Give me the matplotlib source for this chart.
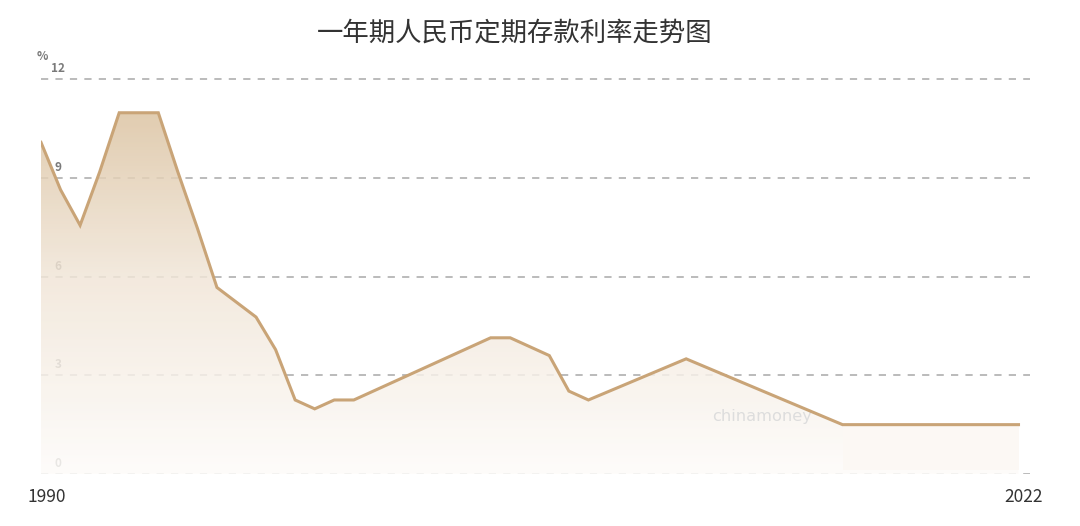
import numpy as np
import matplotlib
matplotlib.use("Agg")
import matplotlib.pyplot as plt
from matplotlib.colors import LinearSegmentedColormap
from matplotlib.patches import PathPatch

plt.rcParams['font.family'] = ['Noto Sans CJK SC', 'DejaVu Sans']

# one-year RMB deposit rate (%), one point per rate step
rates = [10.08, 8.64, 7.56, 9.18, 10.98, 10.98, 10.98, 9.18, 7.47, 5.67,
         5.22, 4.77, 3.78, 2.25, 1.98, 2.25, 2.25, 2.52, 2.79, 3.06,
         3.33, 3.60, 3.87, 4.14, 4.14, 3.87, 3.60, 2.52, 2.25, 2.50,
         2.75, 3.00, 3.25, 3.50, 3.25, 3.00, 2.75, 2.50, 2.25, 2.00,
         1.75, 1.50, 1.50, 1.50, 1.50, 1.50, 1.50, 1.50, 1.50, 1.50,
         1.50]
yticks = [0, 3, 6, 9, 12]
end_labels = ["1990", "2022"]

title = "一年期人民币定期存款利率走势图"
line_color = "#c9a477"

fig = plt.figure(figsize=(10.8, 5.26), dpi=100)
W, H = 1080, 526
ax = fig.add_axes([41 / W, 52 / H, 989 / W, 405 / H])

x = np.arange(len(rates))
n = len(rates) - 1
ax.set_xlim(0, 989 / 19.55)
ax.set_ylim(0, 12.31)

# dashed grid, labels sit under the fill
for t in yticks:
    ax.axhline(t, color="#b5b5b5", lw=1.3, ls=(0, (4, 4)), zorder=1)
    ax.text(0.88, t + 0.12, str(t), fontsize=8.5, color="#7a7a7a",
            ha="center", va="bottom", zorder=1, fontweight="bold")

# gradient fill under the line
poly = ax.fill_between(x, rates, 0, color="none", lw=0)
cmap = LinearSegmentedColormap.from_list("g", ["#fefcfa", "#f1e6d8", "#d8bd98"])
grad = np.linspace(1, 0, 256).reshape(-1, 1)
im = ax.imshow(grad, cmap=cmap, aspect="auto", extent=[0, n, 0, 12],
               origin="upper", zorder=2, alpha=0.85)
clip = PathPatch(poly.get_paths()[0], transform=ax.transData, facecolor="none", edgecolor="none")
ax.add_patch(clip)
im.set_clip_path(clip)

# flat tail has a plain light patch in the original
tail = x >= 40.5
ax.fill_between(x[tail], np.array(rates)[tail], 0.12, color="#fcf8f4", lw=0, zorder=3)

ax.plot(x, rates, color=line_color, lw=2.2, zorder=4, solid_joinstyle="miter")

ax.text(36.9, 1.75, "chinamoney", fontsize=11.7, color="#dddddd", ha="center",
        va="center", zorder=3, family=["DejaVu Sans"])

for s in ax.spines.values():
    s.set_visible(False)
ax.set_xticks([])
ax.set_yticks([])

fig.text(42 / W, 1 - 57 / H, "%", fontsize=8.5, color="#7a7a7a", ha="center",
         va="center", fontweight="bold")
fig.text(47 / W, 1 - 497 / H, end_labels[0], fontsize=12.5, color="#333333",
         ha="center", va="center")
fig.text(1024 / W, 1 - 497 / H, end_labels[1], fontsize=12.5, color="#333333",
         ha="center", va="center")
fig.text(515 / W, 1 - 33 / H, title, fontsize=19, color="#333333",
         ha="center", va="center")

fig.savefig("out.png", dpi=100)
